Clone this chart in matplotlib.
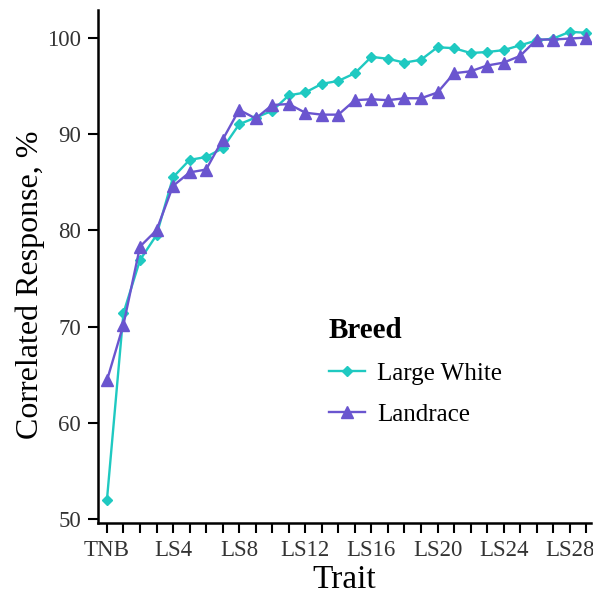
import matplotlib
matplotlib.use("Agg")
import matplotlib.pyplot as plt

traits = ["TNB"] + ["LS" + str(i) for i in range(1, 30)]

large_white = [52.0, 71.4, 76.9, 79.5, 85.5, 87.3, 87.6, 88.5, 91.0, 91.7,
               92.4, 94.0, 94.3, 95.2, 95.5, 96.3, 98.0, 97.8, 97.4, 97.7,
               99.0, 98.9, 98.4, 98.5, 98.7, 99.2, 99.7, 99.9, 100.6, 100.5]
landrace = [64.4, 70.2, 78.3, 80.0, 84.6, 86.0, 86.3, 89.4, 92.5, 91.6,
            93.0, 93.1, 92.2, 92.0, 92.0, 93.5, 93.6, 93.5, 93.7, 93.7,
            94.3, 96.3, 96.5, 97.1, 97.4, 98.1, 99.8, 99.8, 99.9, 100.0]

tick_labels = ["TNB", "LS4", "LS8", "LS12", "LS16", "LS20", "LS24", "LS28"]

def main():
	plt.rcParams["font.family"] = ["Liberation Serif", "DejaVu Serif"]

	fig = plt.figure(figsize=(5.93, 5.97), dpi=100)
	ax = fig.add_axes([0.165, 0.124, 0.832, 0.859])

	x = list(range(len(traits)))
	ax.plot(x, large_white, color="#1fc9c1", lw=1.7, marker="D", ms=5.2,
		label="Large White")
	ax.plot(x, landrace, color="#6a55cf", lw=1.7, marker="^", ms=8.5,
		label="Landrace")

	ax.set_xlim(-0.55, 29.3)
	ax.set_ylim(49.6, 102.85)
	ax.set_xticks(x)
	ax.set_xticklabels([t if t in tick_labels else "" for t in traits])
	ax.set_yticks([50, 60, 70, 80, 90, 100])

	for side in ["top", "right"]:
		ax.spines[side].set_visible(False)
	for side in ["left", "bottom"]:
		ax.spines[side].set_linewidth(1.8)
	ax.tick_params(axis="both", length=7, width=1.5, labelsize=16.5,
		colors="black", labelcolor="#333333")
	ax.tick_params(axis="x", pad=5)
	ax.tick_params(axis="y", pad=5)

	ax.set_xlabel("Trait", fontsize=24, labelpad=3)
	ax.set_ylabel("Correlated Response, %", fontsize=23)
	ax.yaxis.set_label_coords(-0.108, 0.464)

	leg = ax.legend(title="Breed", loc="upper left",
		bbox_to_anchor=(306 / 593, 1 - 294 / 597), bbox_transform=fig.transFigure,
		frameon=False, fontsize=18, handlelength=1.45, handletextpad=0.5,
		labelspacing=0.75, title_fontproperties={"weight": "bold", "size": 21})
	leg._legend_box.align = "left"

	plt.savefig("out.png")


if __name__ == "__main__":
	main()
